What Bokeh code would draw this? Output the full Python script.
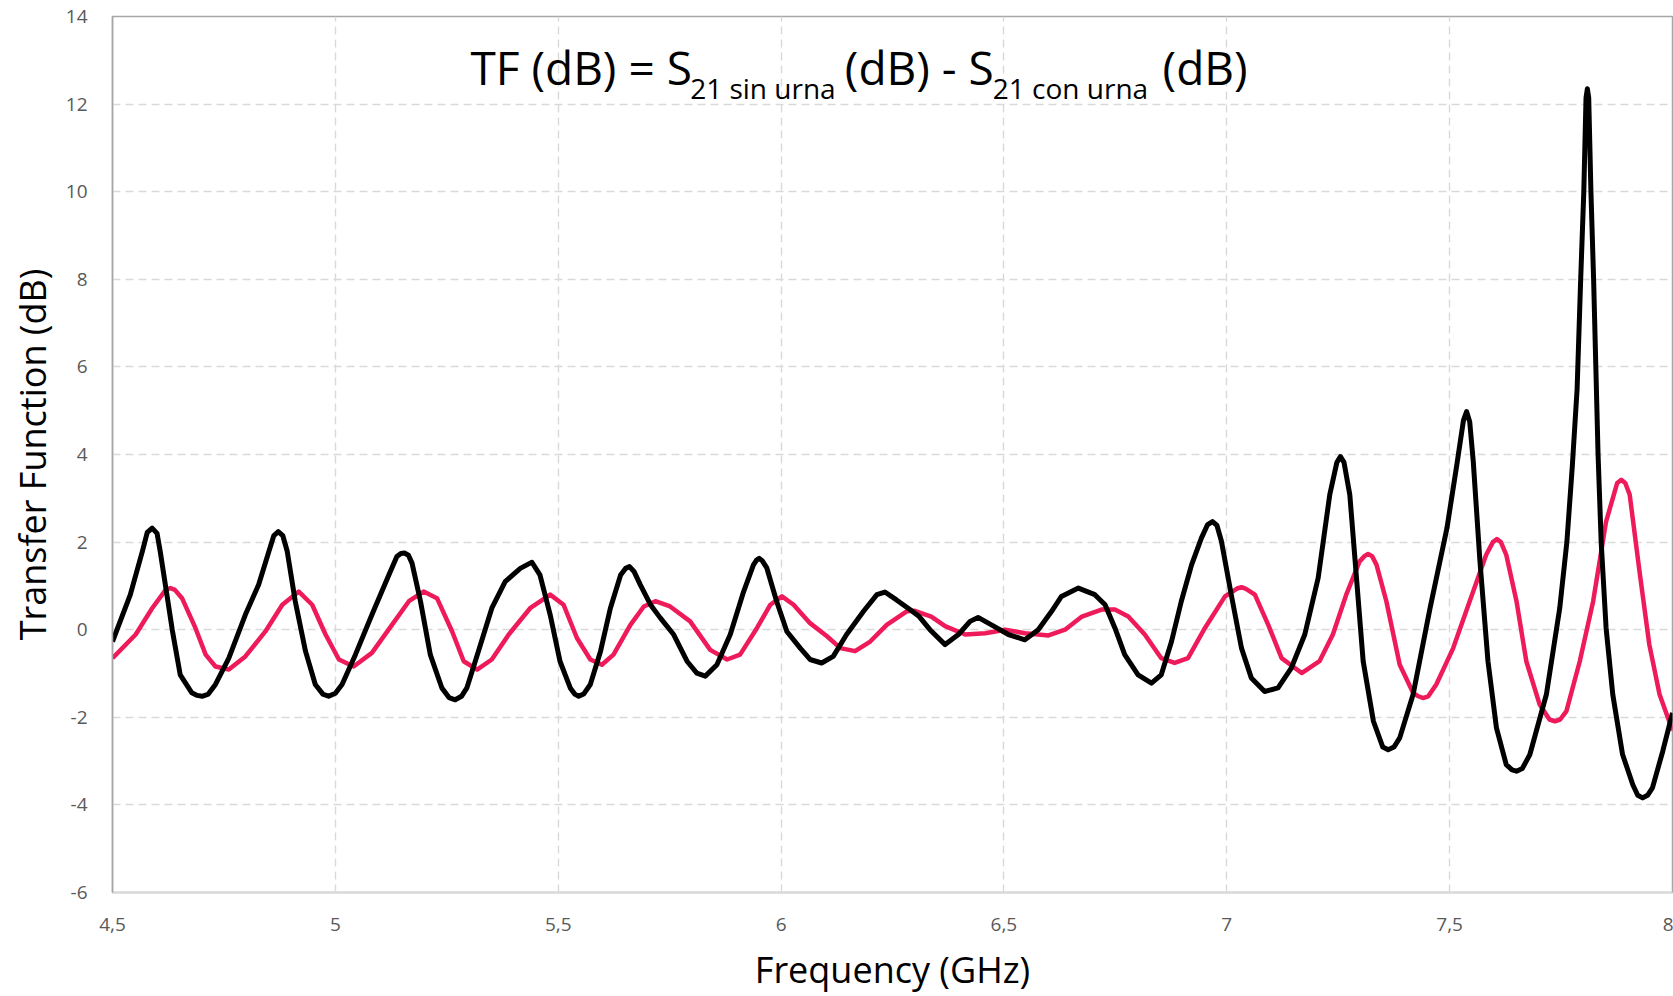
from bokeh.plotting import figure
from bokeh.models import Label, FixedTicker, Range1d
from bokeh.embed import file_html
from bokeh.resources import INLINE

# ---- data ----
freq_black = [4.500, 4.540, 4.567, 4.578, 4.589, 4.600, 4.607, 4.622, 4.634, 4.652,
              4.678, 4.690, 4.701, 4.715, 4.731, 4.761, 4.798, 4.828, 4.851, 4.862,
              4.872, 4.882, 4.892, 4.910, 4.933, 4.955, 4.972, 4.985, 5.000, 5.015,
              5.045, 5.082, 5.120, 5.138, 5.147, 5.155, 5.164, 5.172, 5.191, 5.213,
              5.239, 5.255, 5.269, 5.283, 5.295, 5.321, 5.351, 5.381, 5.415, 5.437,
              5.441, 5.459, 5.482, 5.504, 5.527, 5.537, 5.546, 5.557, 5.572, 5.595,
              5.617, 5.640, 5.651, 5.660, 5.670, 5.684, 5.707, 5.729, 5.759, 5.789,
              5.811, 5.830, 5.856, 5.886, 5.916, 5.938, 5.945, 5.951, 5.958, 5.968,
              5.990, 6.013, 6.043, 6.065, 6.091, 6.117, 6.147, 6.185, 6.215, 6.233,
              6.259, 6.289, 6.310, 6.334, 6.368, 6.398, 6.424, 6.442, 6.472, 6.510,
              6.547, 6.577, 6.607, 6.629, 6.667, 6.704, 6.727, 6.749, 6.771, 6.801,
              6.831, 6.853, 6.876, 6.898, 6.921, 6.943, 6.957, 6.968, 6.978, 6.988,
              7.010, 7.033, 7.055, 7.085, 7.115, 7.145, 7.175, 7.205, 7.231, 7.247,
              7.255, 7.263, 7.276, 7.291, 7.306, 7.329, 7.350, 7.362, 7.375, 7.388,
              7.418, 7.456, 7.494, 7.516, 7.531, 7.538, 7.545, 7.553, 7.568, 7.586,
              7.605, 7.627, 7.640, 7.650, 7.663, 7.680, 7.717, 7.747, 7.763, 7.775,
              7.786, 7.794, 7.801, 7.806, 7.809, 7.812, 7.817, 7.823, 7.828, 7.833,
              7.840, 7.851, 7.866, 7.888, 7.911, 7.922, 7.933, 7.944, 7.955, 7.978,
              8.000]
tf_black = [-0.27, 0.80, 1.79, 2.22, 2.32, 2.20, 1.79, 0.80, 0.00, -1.03,
            -1.44, -1.50, -1.52, -1.47, -1.25, -0.65, 0.34, 1.03, 1.79, 2.15,
            2.24, 2.15, 1.79, 0.65, -0.49, -1.25, -1.47, -1.52, -1.45, -1.25,
            -0.57, 0.34, 1.25, 1.67, 1.74, 1.75, 1.70, 1.52, 0.65, -0.57,
            -1.33, -1.55, -1.60, -1.52, -1.33, -0.49, 0.49, 1.10, 1.40, 1.52,
            1.54, 1.25, 0.34, -0.72, -1.33, -1.47, -1.52, -1.47, -1.25, -0.49,
            0.49, 1.25, 1.40, 1.44, 1.33, 1.03, 0.57, 0.27, -0.11, -0.72,
            -0.99, -1.06, -0.80, -0.11, 0.87, 1.48, 1.59, 1.63, 1.57, 1.41,
            0.65, -0.04, -0.42, -0.68, -0.76, -0.61, -0.11, 0.42, 0.80, 0.86,
            0.68, 0.46, 0.30, 0.00, -0.34, -0.11, 0.19, 0.28, 0.11, -0.11,
            -0.23, 0.00, 0.42, 0.76, 0.95, 0.80, 0.57, 0.04, -0.57, -1.03,
            -1.22, -1.03, -0.27, 0.65, 1.48, 2.09, 2.40, 2.47, 2.38, 2.02,
            0.80, -0.42, -1.10, -1.41, -1.33, -0.87, -0.11, 1.18, 3.08, 3.82,
            3.95, 3.82, 3.08, 1.18, -0.72, -2.09, -2.68, -2.74, -2.68, -2.47,
            -1.48, 0.49, 2.32, 3.76, 4.78, 4.98, 4.75, 3.84, 1.56, -0.72,
            -2.24, -3.08, -3.20, -3.23, -3.17, -2.85, -1.48, 0.49, 2.00, 3.70,
            5.50, 8.00, 10.00, 12.15, 12.35, 12.15, 10.00, 8.00, 6.00, 4.00,
            2.00, 0.04, -1.48, -2.85, -3.54, -3.78, -3.84, -3.78, -3.61, -2.78,
            -1.90]

freq_red = [4.500, 4.552, 4.589, 4.620, 4.630, 4.640, 4.656, 4.686, 4.709, 4.731,
            4.761, 4.798, 4.843, 4.881, 4.918, 4.948, 4.978, 5.008, 5.041, 5.082,
            5.127, 5.165, 5.198, 5.228, 5.262, 5.288, 5.318, 5.351, 5.389, 5.437,
            5.482, 5.512, 5.542, 5.572, 5.598, 5.624, 5.662, 5.692, 5.718, 5.751,
            5.796, 5.841, 5.879, 5.908, 5.946, 5.976, 6.002, 6.028, 6.065, 6.103,
            6.133, 6.166, 6.200, 6.237, 6.282, 6.300, 6.337, 6.368, 6.413, 6.458,
            6.503, 6.547, 6.600, 6.637, 6.675, 6.719, 6.749, 6.779, 6.816, 6.853,
            6.883, 6.913, 6.951, 6.996, 7.023, 7.033, 7.043, 7.063, 7.093, 7.123,
            7.168, 7.208, 7.238, 7.268, 7.298, 7.309, 7.317, 7.326, 7.336, 7.358,
            7.388, 7.418, 7.430, 7.440, 7.452, 7.470, 7.508, 7.545, 7.582, 7.597,
            7.606, 7.615, 7.627, 7.650, 7.672, 7.702, 7.724, 7.736, 7.748, 7.762,
            7.792, 7.822, 7.851, 7.876, 7.885, 7.894, 7.904, 7.926, 7.948, 7.971,
            8.000]
tf_red = [-0.65, -0.11, 0.49, 0.92, 0.95, 0.91, 0.72, 0.04, -0.57, -0.84,
          -0.91, -0.61, -0.04, 0.57, 0.87, 0.57, -0.11, -0.68, -0.84, -0.53,
          0.11, 0.65, 0.87, 0.72, -0.04, -0.72, -0.91, -0.68, -0.11, 0.49,
          0.80, 0.57, -0.19, -0.68, -0.80, -0.57, 0.11, 0.53, 0.65, 0.53,
          0.19, -0.46, -0.68, -0.57, 0.04, 0.57, 0.76, 0.57, 0.15, -0.15,
          -0.42, -0.49, -0.27, 0.11, 0.42, 0.43, 0.30, 0.08, -0.11, -0.08,
          0.00, -0.08, -0.13, 0.00, 0.30, 0.46, 0.46, 0.30, -0.11, -0.65,
          -0.76, -0.65, 0.04, 0.76, 0.94, 0.97, 0.93, 0.80, 0.11, -0.65,
          -0.99, -0.72, -0.11, 0.80, 1.56, 1.68, 1.73, 1.68, 1.48, 0.65,
          -0.80, -1.44, -1.52, -1.56, -1.52, -1.25, -0.42, 0.65, 1.71, 2.00,
          2.07, 2.00, 1.71, 0.65, -0.72, -1.71, -2.05, -2.09, -2.05, -1.86,
          -0.72, 0.65, 2.47, 3.35, 3.42, 3.35, 3.08, 1.33, -0.34, -1.48,
          -2.30]

x_ticks = [4.5, 5, 5.5, 6, 6.5, 7, 7.5, 8]
x_tick_labels = ["4,5", "5", "5,5", "6", "6,5", "7", "7,5", "8"]
y_ticks = [-6, -4, -2, 0, 2, 4, 6, 8, 10, 12, 14]
y_tick_labels = ["-6", "-4", "-2", "0", "2", "4", "6", "8", "10", "12", "14"]

FONT = "Open Sans"

p = figure(width=1673, height=996, output_backend="svg", toolbar_location=None,
           x_range=Range1d(4.5, 8), y_range=Range1d(-6, 14),
           min_border_left=112, min_border_right=1, min_border_top=16,
           min_border_bottom=103)

p.background_fill_color = "white"
p.border_fill_color = "white"
p.outline_line_color = "#a6a6a6"
p.outline_line_width = 1.5

# grid
for g in (p.xgrid, p.ygrid):
    g.grid_line_color = "#d9d9d9"
    g.grid_line_dash = "8 5"
    g.grid_line_width = 1.4

# axes
p.xaxis.ticker = FixedTicker(ticks=x_ticks)
p.xaxis.major_label_overrides = {float(t): l for t, l in zip(x_ticks, x_tick_labels)}
p.yaxis.ticker = FixedTicker(ticks=y_ticks)
p.yaxis.major_label_overrides = {float(t): l for t, l in zip(y_ticks, y_tick_labels)}
for ax in (p.xaxis[0], p.yaxis[0]):
    ax.major_tick_line_color = None
    ax.minor_tick_line_color = None
    ax.major_label_text_font = FONT
    ax.major_label_text_font_size = "19px"
    ax.major_label_text_color = "#595959"
    ax.axis_label_text_font = FONT
    ax.axis_label_text_font_size = "36px"
    ax.axis_label_text_font_style = "normal"
    ax.axis_label_text_color = "#000000"
p.xaxis.axis_line_color = "#d9d9d9"
p.xaxis.axis_line_width = 2
p.yaxis.axis_line_color = "#a6a6a6"
p.yaxis.axis_line_width = 1.5
p.xaxis.major_label_standoff = 19
p.yaxis.major_label_standoff = 19
p.xaxis.axis_label_standoff = 11
p.yaxis.axis_label_standoff = 6
p.xaxis.axis_label = "Frequency (GHz)"
p.yaxis.axis_label = "Transfer Function (dB)"

# series
p.line(freq_red, tf_red, line_color="#EE1A5A", line_width=4.5, line_join="round")
p.line(freq_black, tf_black, line_color="#000000", line_width=5, line_join="round")

# equation text (with subscripts)
main_size = "46px"
sub_size = "28px"
main_y = 12.85
sub_y = 12.36
pieces = [
    (5.303, main_y, "TF (dB) = S", main_size),
    (5.796, sub_y, "21 sin urna", sub_size),
    (6.143, main_y, "(dB) - S", main_size),
    (6.475, sub_y, "21 con urna", sub_size),
    (6.856, main_y, "(dB)", main_size),
]
for x, y, t, s in pieces:
    p.add_layout(Label(x=x, y=y, text=t, text_font=FONT, text_font_size=s,
                       text_color="#000000", text_baseline="middle",
                       text_align="left"))

open("out.html", "w").write(file_html(p, INLINE))
